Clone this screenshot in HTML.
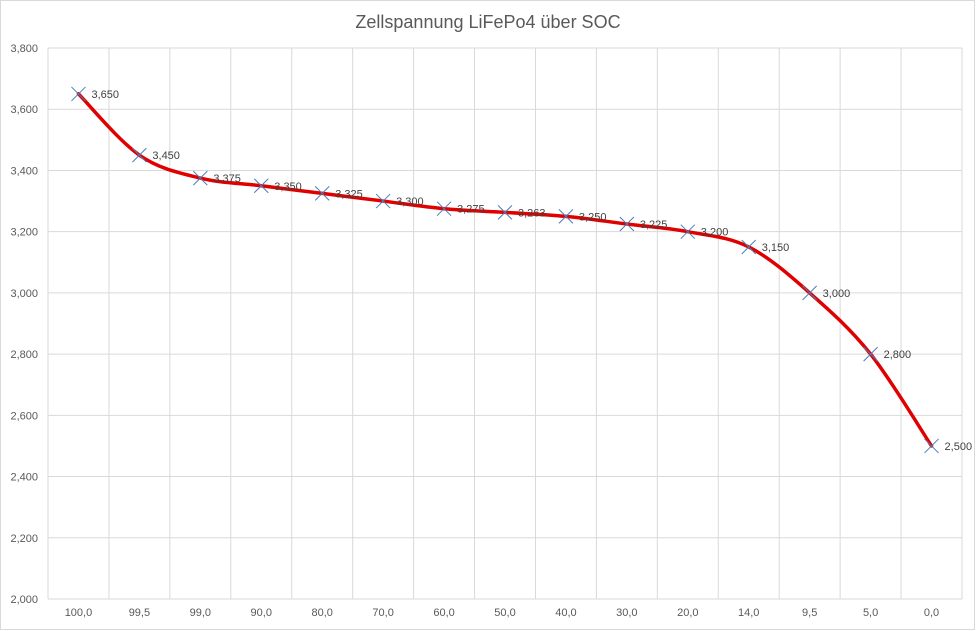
<!DOCTYPE html>
<html><head><meta charset="utf-8"><style>
body{margin:0;background:#fff;}
svg{display:block;font-family:"Liberation Sans",sans-serif;}
</style></head><body>
<svg id="s" width="976" height="631" viewBox="0 0 976 631" xmlns="http://www.w3.org/2000/svg">
<rect x="0.5" y="0.5" width="974" height="629" fill="#fff" stroke="#d9d9d9"/>
<text x="488" y="28" text-anchor="middle" font-size="18" fill="#595959">Zellspannung LiFePo4 über SOC</text>
<g id="g"></g>
</svg>
<script>
var g=document.getElementById('g'),ns="http://www.w3.org/2000/svg",h="";
var L=48,R=962,T=48,B=599,n=15,cw=(R-L)/n;
for(var i=0;i<=9;i++){var y=T+i*(B-T)/9;h+='<line x1="'+L+'" x2="'+R+'" y1="'+y+'" y2="'+y+'" stroke="#d9d9d9"/>';
var v=(3.8-i*0.2).toFixed(3).replace('.',',');h+='<text x="38" y="'+(y+4)+'" text-anchor="end" font-size="11" fill="#595959">'+v+'</text>';}
var cats=["100,0","99,5","99,0","90,0","80,0","70,0","60,0","50,0","40,0","30,0","20,0","14,0","9,5","5,0","0,0"];
for(var i=0;i<=n;i++){var x=L+i*cw;h+='<line x1="'+x+'" x2="'+x+'" y1="'+T+'" y2="'+B+'" stroke="#d9d9d9"/>';}
for(var i=0;i<n;i++){h+='<text x="'+(L+(i+0.5)*cw)+'" y="616" text-anchor="middle" font-size="11" fill="#595959">'+cats[i]+'</text>';}
var vals=[3.650,3.450,3.375,3.350,3.325,3.300,3.275,3.263,3.250,3.225,3.200,3.150,3.000,2.800,2.500];
var P=vals.map(function(v,i){return [L+(i+0.5)*cw,B-(v-2)/1.8*(B-T)];});
var d="M"+P[0][0]+","+P[0][1];
for(var i=0;i<P.length-1;i++){var p0=P[i-1]||P[i],p1=P[i],p2=P[i+1],p3=P[i+2]||P[i+1],t=6;
d+=" C"+(p1[0]+(p2[0]-p0[0])/t)+","+(p1[1]+(p2[1]-p0[1])/t)+" "+(p2[0]-(p3[0]-p1[0])/t)+","+(p2[1]-(p3[1]-p1[1])/t)+" "+p2[0]+","+p2[1];}
h+='<path d="'+d+'" fill="none" stroke="#e00000" stroke-width="3.5" stroke-linecap="round"/>';
P.forEach(function(p,i){var s=7;h+='<path d="M'+(p[0]-s)+','+(p[1]-s)+'L'+(p[0]+s)+','+(p[1]+s)+'M'+(p[0]-s)+','+(p[1]+s)+'L'+(p[0]+s)+','+(p[1]-s)+'" stroke="#4a7ebb" stroke-width="1"/>';
h+='<text x="'+(p[0]+13)+'" y="'+(p[1]+4)+'" font-size="11" fill="#404040">'+vals[i].toFixed(3).replace('.',',')+'</text>';});
g.innerHTML=h;
</script>
</body></html>
